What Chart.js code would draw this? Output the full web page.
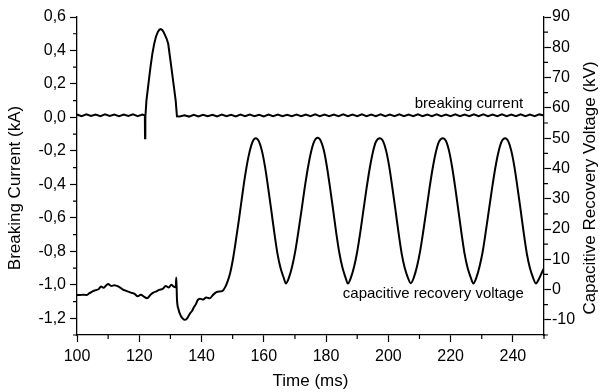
<!DOCTYPE html>
<html>
<head>
<meta charset="utf-8">
<script src="https://cdn.jsdelivr.net/npm/chart.js@4.4.1/dist/chart.umd.min.js"></script>
<style>
  html, body { margin: 0; padding: 0; background: #fff; }
  #wrap { width: 600px; height: 392px; }
</style>
</head>
<body>
<div id="wrap"><canvas id="chart" width="600" height="392"></canvas></div>
<script>
// breaking current (kA), left axis
const currentTime = [
  100,101.5,103,104.5,106,107.5,109,110.5,112,113.5,115,116.5,118,119.5,121,
  121.8,121.85,121.95,122.3,123,123.6,124.2,124.8,125.4,126,126.5,126.9,127.4,127.8,128.2,128.8,129.3,129.8,130.3,131,131.7,132.1,
  133,134.5,136,137.5,139,140.5,142,143.5,145,146.5,148,149.5,151,152.5,154,155.5,157,158.5,160,161.5,
  163,164.5,166,167.5,169,170.5,172,173.5,175,176.5,178,179.5,181,182.5,184,185.5,187,188.5,190,191.5,
  193,194.5,196,197.5,199,200.5,202,203.5,205,206.5,208,209.5,211,212.5,214,215.5,217,218.5,220,221.5,
  223,224.5,226,227.5,229,230.5,232,233.5,235,236.5,238,239.5,241,242.5,244,245.5,247,248.5,250
];
const currentKA = [
  0.017,0.008,0.018,0.009,0.017,0.008,0.018,0.009,0.017,0.008,0.017,0.009,0.018,0.008,0.017,
  0.012,-0.124,0.0,0.10,0.21,0.30,0.38,0.44,0.485,0.512,0.525,0.528,0.522,0.51,0.495,0.47,0.44,0.37,0.30,0.20,0.10,0.006,
  0.005,0.013,0.005,0.015,0.006,0.016,0.007,0.016,0.006,0.017,0.007,0.016,0.006,0.017,0.007,0.017,0.007,0.016,0.006,0.017,
  0.007,0.017,0.007,0.016,0.007,0.017,0.008,0.017,0.007,0.018,0.008,0.017,0.007,0.017,0.008,0.018,0.008,0.017,0.007,0.018,
  0.008,0.017,0.008,0.018,0.007,0.017,0.008,0.018,0.008,0.017,0.007,0.018,0.008,0.017,0.008,0.018,0.007,0.017,0.008,0.018,
  0.008,0.017,0.007,0.018,0.008,0.018,0.008,0.017,0.007,0.018,0.008,0.017,0.008,0.018,0.007,0.017,0.008,0.018,0.012
];

// capacitive recovery voltage (kV), right axis
const voltTime = [
  100,101,102,103,104,105,106,107,107.7,108.5,109.3,110,111,112,112.5,113.5,114.6,116,117.3,118.5,119.5,120.5,
  121.6,122.5,123.7,124.5,125.5,126.4,127.5,128.5,129.5,130.3,131,131.7,131.9,132.1,132.6,133.3,134,134.6,135.3,136,
  136.5,137,137.5,138.2,138.8,139.5,140.5,141.5,142.6,143.5,144.5,145.2,146.2,146.8,147.6,148.4,149.2,150,151,152,
  153,154,155,156,156.8,
  157.4,158.4,159.4,160.4,161.4,162.4,163.4,164.4,165.4,166.4,167.1,168.1,169.1,170.1,171.1,172.1,173.1,174.1,175.1,176.1,
  177.3,178.3,179.3,180.3,181.3,182.3,183.3,184.3,185.3,186.3,187,188,189,190,191,192,193,194,195,196,
  197.3,198.3,199.3,200.3,201.3,202.3,203.3,204.3,205.3,206.3,207.2,208.2,209.2,210.2,211.2,212.2,213.2,214.2,215.2,216.2,
  217.5,218.5,219.5,220.5,221.5,222.5,223.5,224.5,225.5,226.5,227.3,228.3,229.3,230.3,231.3,232.3,233.3,234.3,235.3,236.3,
  237.5,238.5,239.5,240.5,241.5,242.5,243.5,244.5,245.5,246.5,247.4,248.4,249.4,250
];
const voltKV = [
  -1.8,-1.8,-1.7,-1.8,-1.2,-0.6,-0.2,0.2,1.0,0.6,1.3,1.8,1.2,1.4,1.3,0.9,0.1,-0.5,-1.0,-1.4,-2.2,-1.7,
  -2.4,-2.9,-1.6,-1.0,-0.6,-0.1,0.2,1.2,0.7,1.6,1.0,0.8,4.0,-3.0,-6.5,-8.6,-9.6,-10.0,-9.6,-8.4,
  -7.6,-7.0,-5.9,-4.8,-3.4,-3.0,-3.3,-2.6,-2.9,-2.0,-1.0,-0.7,-0.6,-0.4,0.8,2.8,5.5,9.5,16.0,23.0,
  30.5,37.6,43.5,47.7,49.6,
  50.0,49.0,45.8,40.5,33.6,26.2,18.6,11.8,7.0,3.9,2.0,4.0,7.6,12.6,19.1,26.1,33.3,39.8,45.1,48.7,
  50.1,49.1,45.9,40.4,33.5,26.1,18.5,11.9,7.1,3.8,2.0,4.0,7.5,12.5,19.0,26.2,33.4,39.9,45.2,48.8,
  50.0,49.0,45.8,40.5,33.6,26.2,18.6,11.8,7.0,3.9,2.1,4.0,7.6,12.6,19.1,26.1,33.3,39.8,45.1,48.7,
  50.0,49.1,45.8,40.4,33.6,26.1,18.6,11.8,7.0,3.9,2.0,4.0,7.6,12.5,19.1,26.2,33.3,39.8,45.1,48.7,
  50.0,49.0,45.8,40.5,33.6,26.2,18.6,11.8,7.0,3.9,2.0,3.6,5.8,7.0
];

const xTicks = [100,120,140,160,180,200,220,240];
const xMinor = [110,130,150,170,190,210,230,250];
const yTicks = [-1.2,-1.0,-0.8,-0.6,-0.4,-0.2,0.0,0.2,0.4,0.6];
const yMinor = [-1.3,-1.1,-0.9,-0.7,-0.5,-0.3,-0.1,0.1,0.3,0.5];
const y2Ticks = [-10,0,10,20,30,40,50,60,70,80,90];
const y2Minor = [-15,-5,5,15,25,35,45,55,65,75,85];

const FONT = 'Arial, "Liberation Sans", sans-serif';

const minorTicks = {
  id: 'minorTicks',
  afterDraw(chart) {
    const ctx = chart.ctx, a = chart.chartArea, s = chart.scales;
    ctx.save();
    ctx.strokeStyle = '#000';
    ctx.lineWidth = 1.2;
    ctx.beginPath();
    xMinor.forEach(v => { const p = s.x.getPixelForValue(v); ctx.moveTo(p, a.bottom); ctx.lineTo(p, a.bottom + 4); });
    yMinor.forEach(v => { const p = s.y.getPixelForValue(v); ctx.moveTo(a.left, p); ctx.lineTo(a.left - 4, p); });
    y2Minor.forEach(v => { const p = s.y2.getPixelForValue(v); ctx.moveTo(a.right, p); ctx.lineTo(a.right + 4, p); });
    ctx.stroke();
    ctx.restore();
  }
};

// axis titles (both read bottom-to-top) and curve labels
const notes = {
  id: 'notes',
  afterDraw(chart) {
    const ctx = chart.ctx, s = chart.scales;
    ctx.save();
    ctx.fillStyle = '#000';
    ctx.font = '15px ' + FONT;
    ctx.textAlign = 'right';
    ctx.textBaseline = 'middle';
    ctx.fillText('breaking current', s.x.getPixelForValue(243.3), s.y.getPixelForValue(0.08));
    ctx.fillText('capacitive recovery voltage', s.x.getPixelForValue(243.5), s.y2.getPixelForValue(-1.4));

    ctx.font = '17px ' + FONT;
    ctx.textAlign = 'center';
    [['Breaking Current (kA)', 15], ['Capacitive Recovery Voltage (kV)', 590]].forEach(([txt, cx]) => {
      ctx.save();
      ctx.translate(cx, 188);
      ctx.rotate(-Math.PI / 2);
      ctx.fillText(txt, 0, 0);
      ctx.restore();
    });
    ctx.restore();
  }
};

const axisGrid = { drawOnChartArea: false, drawTicks: true, tickLength: 7, tickColor: '#000', tickWidth: 1.2 };
const axisBorder = { display: true, color: '#000', width: 1.3 };
const tickFont = { family: FONT, size: 16 };
const fmt = v => v.toFixed(1).replace('.', ',');

new Chart(document.getElementById('chart'), {
  type: 'line',
  data: {
    datasets: [
      {
        data: currentTime.map((t, i) => ({ x: t, y: currentKA[i] })),
        yAxisID: 'y',
        borderColor: '#000',
        borderWidth: 2,
        pointRadius: 0,
        tension: 0
      },
      {
        data: voltTime.map((t, i) => ({ x: t, y: voltKV[i] })),
        yAxisID: 'y2',
        borderColor: '#000',
        borderWidth: 2,
        pointRadius: 0,
        cubicInterpolationMode: 'monotone'
      }
    ]
  },
  options: {
    responsive: false,
    animation: false,
    events: [],
    layout: { padding: { top: 17, left: 0, right: 0, bottom: 0 } },
    plugins: { legend: { display: false }, tooltip: { enabled: false } },
    scales: {
      x: {
        type: 'linear',
        min: 100, max: 250,
        afterBuildTicks: sc => { sc.ticks = xTicks.map(v => ({ value: v })); },
        afterFit: sc => { sc.height = 57; },
        grid: axisGrid,
        border: axisBorder,
        ticks: { color: '#000', font: tickFont, padding: 5, maxRotation: 0, callback: v => String(v) },
        title: { display: true, text: 'Time (ms)', color: '#000', font: { family: FONT, size: 17 }, padding: { top: 0, bottom: 0 } }
      },
      y: {
        position: 'left',
        min: -1.3, max: 0.6,
        afterBuildTicks: sc => { sc.ticks = yTicks.map(v => ({ value: v })); },
        afterFit: sc => { sc.width = 77; },
        grid: axisGrid,
        border: axisBorder,
        ticks: { color: '#000', font: tickFont, padding: 4, callback: v => fmt(v) }
      },
      y2: {
        position: 'right',
        min: -15, max: 90,
        afterBuildTicks: sc => { sc.ticks = y2Ticks.map(v => ({ value: v })); },
        afterFit: sc => { sc.width = 56; },
        grid: axisGrid,
        border: axisBorder,
        ticks: { color: '#000', font: tickFont, padding: 1, callback: v => String(v) }
      }
    }
  },
  plugins: [minorTicks, notes]
});
</script>
</body>
</html>
